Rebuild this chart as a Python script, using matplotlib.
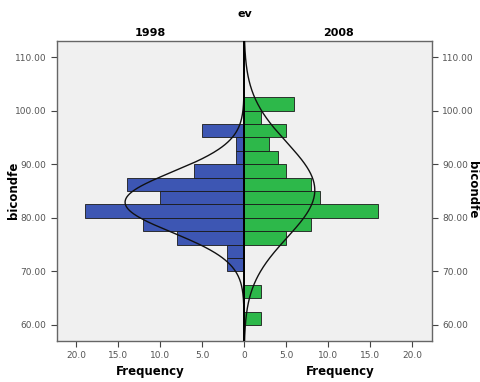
import matplotlib.pyplot as plt
import numpy as np

# bin lower edges (bicondfe), bin width 2.5
bin_edges = [60.0, 62.5, 65.0, 67.5, 70.0, 72.5, 75.0, 77.5, 80.0, 82.5,
             85.0, 87.5, 90.0, 92.5, 95.0, 97.5, 100.0]
bin_width = 2.5
counts_1998 = [0, 0, 0, 0, 2, 2, 8, 12, 19, 10, 14, 6, 1, 1, 5, 0, 0]
counts_2008 = [2, 0, 2, 0, 0, 0, 5, 8, 16, 9, 8, 5, 4, 3, 5, 2, 6]

y_ticks = [60, 70, 80, 90, 100, 110]
x_ticks = [-20, -15, -10, -5, 0, 5, 10, 15, 20]

blue = "#3d56b3"
green = "#2db84a"

fig = plt.figure(figsize=(4.81, 3.82), dpi=100)
ax = fig.add_axes([57 / 481, 1 - 341 / 382, (432 - 57) / 481, 300 / 382])
ax.set_facecolor("#f0f0f0")

centers = np.array(bin_edges) + bin_width / 2
c98 = np.array(counts_1998)
c08 = np.array(counts_2008)

ax.barh(centers, -c98, height=bin_width, color=blue, edgecolor="#1a1a1a",
        linewidth=0.6, zorder=2)
ax.barh(centers, c08, height=bin_width, color=green, edgecolor="#1a1a1a",
        linewidth=0.6, zorder=2)

# fitted normal curves
yy = np.linspace(56, 114, 400)
for counts, sign in [(c98, -1), (c08, 1)]:
    n = counts.sum()
    mean = (counts * centers).sum() / n
    sd = np.sqrt((counts * (centers - mean) ** 2).sum() / (n - 1))
    dens = n * bin_width / (sd * np.sqrt(2 * np.pi)) * np.exp(-0.5 * ((yy - mean) / sd) ** 2)
    ax.plot(sign * dens, yy, color="#111111", linewidth=1.0, zorder=3)

ax.axvline(0, color="black", linewidth=1.4, zorder=4)

ax.set_xlim(-22.3, 22.4)
ax.set_ylim(57.0, 113.0)
ax.set_xticks(x_ticks)
ax.set_xticklabels(["0" if t == 0 else f"{abs(t):.1f}" for t in x_ticks])
ax.set_yticks(y_ticks)
ax.set_yticklabels([f"{t:.2f}" for t in y_ticks])
ax.tick_params(axis="both", labelsize=6.5, labelcolor="#555555", color="#444444",
               length=4, width=0.8)
ax.tick_params(axis="y", right=True, labelright=True)
for s in ax.spines.values():
    s.set_color("#666666")
    s.set_linewidth(1.0)

fig.text(245 / 481, 1 - 14 / 382, "ev", ha="center", va="center",
         fontsize=8, fontweight="bold")
fig.text(150 / 481, 1 - 33 / 382, "1998", ha="center", va="center",
         fontsize=8, fontweight="bold")
fig.text(338 / 481, 1 - 33 / 382, "2008", ha="center", va="center",
         fontsize=8, fontweight="bold")
fig.text(150 / 481, 1 - 372 / 382, "Frequency", ha="center", va="center",
         fontsize=8.5, fontweight="bold")
fig.text(340 / 481, 1 - 372 / 382, "Frequency", ha="center", va="center",
         fontsize=8.5, fontweight="bold")
fig.text(14 / 481, 1 - 190 / 382, "bicondfe", ha="center", va="center",
         rotation=90, fontsize=8.5, fontweight="bold")
fig.text(473 / 481, 1 - 190 / 382, "bicondfe", ha="center", va="center",
         rotation=-90, fontsize=8.5, fontweight="bold")

fig.savefig("out.png", dpi=100)
